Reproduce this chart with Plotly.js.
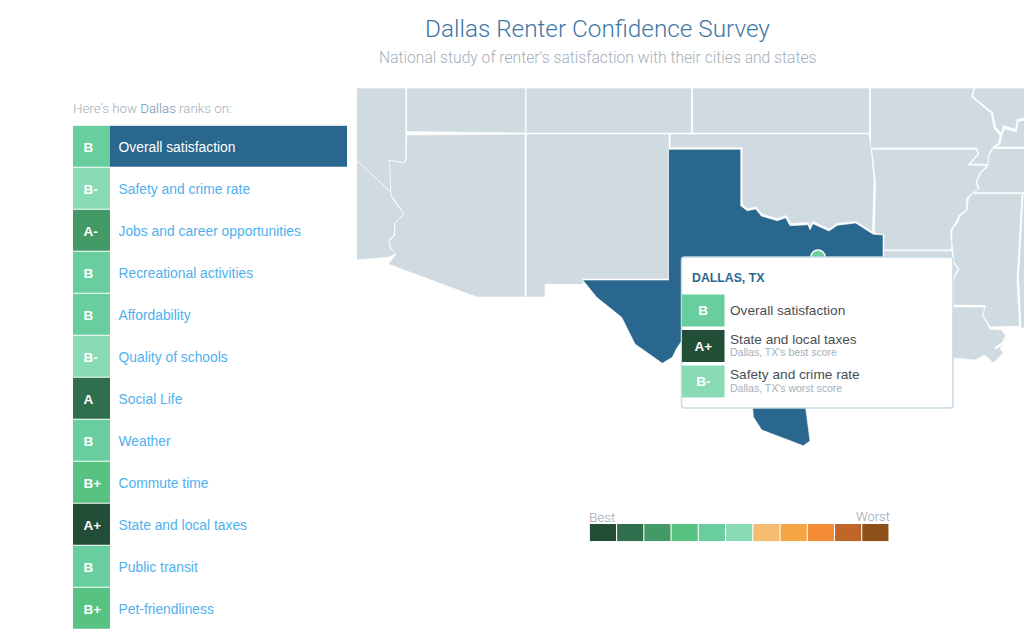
<!DOCTYPE html>
<html><head><meta charset="utf-8">
<script src="https://cdn.plot.ly/plotly-3.0.1.min.js"></script>
<style>html,body{margin:0;padding:0;background:#fff}#chart{width:1024px;height:642px}</style>
</head><body><div id="chart"></div>
<script>
// Survey rows
const categories = ["Overall satisfaction","Safety and crime rate","Jobs and career opportunities","Recreational activities","Affordability","Quality of schools","Social Life","Weather","Commute time","State and local taxes","Public transit","Pet-friendliness"];
const grades = ["B","B-","A-","B","B","B-","A","B","B+","A+","B","B+"];
// Colour scale
const scaleGrades = ["A+","A","A-","B+","B","B-","C+","C","C-","D","F"];
const scaleColors = ["#224d36","#2f6f4d","#449a67","#58c282","#69ce9e","#88dbb4","#f5bb6f","#f6a545","#f48b35","#c06628","#8d5219"];
// Tooltip
const tipCategories = ["Overall satisfaction","State and local taxes","Safety and crime rate"];
const tipGrades = ["B","A+","B-"];
const tipNotes = ["","Dallas, TX's best score","Dallas, TX's worst score"];
// Map outlines, in the map's projected units
const nevada = [[340,88],[405.7,88],[405.7,158],[404,163],[390,160],[390.7,192],[357,161],[340,146]];
const california = [[340,146],[357,161],[390.7,192],[391,196],[397,205],[404,213.5],[395,223],[394,235],[389,240],[390,248],[396,254],[389,257],[357,260],[340,262]];
const utah = [[407,88],[525.5,88],[525.5,133],[407,131.5]];
const colorado = [[526.5,88],[691.5,88],[691.5,133],[526.5,133]];
const kansas = [[693,88],[869.5,88],[869.5,133],[693,133]];
const arizona = [[407,135],[525,134],[525,297],[476.7,297],[388,264],[395.7,254.7],[390.7,248],[389.3,240.7],[395,235],[395,223],[404,214],[396.7,203],[391,195],[389.3,160.3],[404.3,162.7],[406.7,158.3]];
const newMexico = [[526.5,134],[669,134],[669,279],[583,279],[583.3,284.3],[545,284.3],[545,297],[526.5,297]];
const texas = [[669,149.3],[740.7,149.3],[740.7,205.7],[747.3,210.7],[755.7,209],[761.3,216],[777.3,220.7],[785.7,217.7],[790,225.7],[808,224.7],[810,229.7],[813,223.7],[829,231],[837.3,225.3],[855.7,223],[873.3,234.3],[883,235],[883,300],[860,360],[805.7,408],[810,441],[803.3,445.7],[761.7,430],[753.3,416.7],[752.7,408.3],[700,350],[681,342],[676.7,348.3],[672.3,357.3],[662.3,363.3],[635,344],[621.7,317.3],[596.7,297.3],[582.7,280],[669,280]];
const oklahoma = [[670.5,134],[869,134],[871,148],[874,180],[872.5,232],[856,221.5],[837,223.5],[829,229],[813,221.5],[810,227],[808.5,222.5],[791,223.5],[786,215.5],[777.5,218.7],[762,214],[756,207],[747.5,208.7],[742.3,204.7],[742.3,147.7],[670.5,147.7]];
const missouri = [[871,88],[974,88],[971.3,96.7],[991.3,113.3],[994,128.3],[1000,135],[998.3,143.3],[993.3,146.7],[990.7,150],[988,156.7],[988,164.5],[970,164],[979,154.3],[976.7,148],[871,148]];
const arkansas = [[872,149.2],[976,149.2],[978,154],[968,165],[987,165.5],[980.5,172.3],[976,182],[978,189],[972,193.5],[967,197.5],[966,210],[959,215],[956,222],[950.7,230],[950.7,238],[952,241],[951,249.8],[884,249.8],[884,235],[874.5,233],[875.5,180]];
const louisiana = [[884,250.8],[952,250.8],[953,262],[958,269],[953,278],[953,307],[985,307],[982.5,315],[990,329],[1001.7,330],[1007.7,338.3],[1000,348.3],[1003.3,353.3],[993.3,362.7],[984.3,355],[975,360],[953,358],[884,358]];
const mississippi = [[973,193.6],[1022,193.6],[1017,280],[1019.5,326],[990,327],[983,315],[985.5,305.5],[954,305],[954,278],[959,269],[954,262],[953,250],[952,241],[952,230],[958,222],[960,216],[967,210],[968.5,198]];
const alabama = [[1023.5,193.6],[1030,193.6],[1030,328],[1021,328],[1018.7,280]];
const illinois = [[975.5,88],[1030,88],[1030,117],[1017,119.5],[1015.5,129.5],[1003.5,125.5],[1001.5,133.5],[995.5,127],[992.7,112.5],[972.8,96.5]];
const kentucky = [[1005,128.5],[1016.5,132],[1018,121.5],[1030,119],[1030,147],[995,147],[1000,144],[1002,135]];
const tennessee = [[993,148.6],[1030,148.6],[1030,192.6],[973,192.6],[979,188.5],[977,181.5],[981,173],[988,166],[988.5,157]];
const otherStates = {nevada,california,utah,colorado,kansas,arizona,newMexico,oklahoma,missouri,arkansas,louisiana,mississippi,alabama,illinois,kentucky,tennessee};
const deltaChannel = [[1006.5,336.5],[1003,343],[995,348.5]];
const dallas = [818,257];

const colorOf = g => scaleColors[scaleGrades.indexOf(g)];
const sans = '"Liberation Sans", Arial, sans-serif';
const light = 'Roboto, "Liberation Sans", sans-serif';
const land = "#cfdbe1", navy = "#2a678e", link = "#4fb1ee", mute = "#a9b5bd";
const polygon = (pts, fill) => ({type:"scatter",mode:"lines",x:pts.map(p=>p[0]),y:pts.map(p=>p[1]),fill:"toself",fillcolor:fill,line:{color:"#fff",width:0.6},hoverinfo:"skip",showlegend:false,xaxis:"x",yaxis:"y"});

const traces = [];
for (const k in otherStates) traces.push(polygon(otherStates[k], land));
traces.push({type:"scatter",mode:"lines",x:deltaChannel.map(p=>p[0]),y:deltaChannel.map(p=>p[1]),line:{color:"#fff",width:2.5},hoverinfo:"skip",showlegend:false,xaxis:"x",yaxis:"y"});
traces.push(polygon(texas, navy));
traces.push({type:"scatter",mode:"markers",x:[dallas[0]],y:[dallas[1]],marker:{size:14,color:colorOf("B"),line:{color:"#fff",width:1.5}},hoverinfo:"skip",showlegend:false,xaxis:"x",yaxis:"y"});
// keep the box subplot alive
traces.push({type:"scatter",mode:"markers",x:[null],y:[null],showlegend:false,xaxis:"x2",yaxis:"y2"});
// Rank panel
traces.push({type:"bar",orientation:"h",y:categories,x:grades.map(()=>37),marker:{color:grades.map(colorOf)},width:0.975,hoverinfo:"skip",showlegend:false,xaxis:"x3",yaxis:"y3"});
traces.push({type:"bar",orientation:"h",y:categories.slice(0,1),x:[237],base:[37],marker:{color:navy},width:0.975,hoverinfo:"skip",showlegend:false,xaxis:"x3",yaxis:"y3"});
traces.push({type:"scatter",mode:"text",y:categories,x:grades.map(()=>10.5),text:grades,textposition:"middle right",textfont:{family:sans,size:13.5,color:"#fff",weight:700},hoverinfo:"skip",showlegend:false,xaxis:"x6",yaxis:"y6"});
traces.push({type:"scatter",mode:"text",y:categories,x:categories.map(()=>45.5),text:categories,textposition:"middle right",textfont:{family:sans,size:13.85,color:categories.map((c,i)=>i===0?"#fff":link)},hoverinfo:"skip",showlegend:false,xaxis:"x6",yaxis:"y6"});
// Tooltip rows
traces.push({type:"bar",orientation:"h",y:tipCategories,x:tipGrades.map(()=>42.5),marker:{color:tipGrades.map(colorOf)},width:0.9,text:tipGrades,textposition:"inside",insidetextanchor:"middle",textangle:0,constraintext:"none",textfont:{family:sans,size:13.5,color:"#fff",weight:700},hoverinfo:"skip",showlegend:false,xaxis:"x4",yaxis:"y4"});
// Colour scale
traces.push({type:"bar",x:scaleGrades,y:scaleGrades.map(()=>1),marker:{color:scaleColors},width:0.96,hoverinfo:"skip",showlegend:false,xaxis:"x5",yaxis:"y5"});

const W=1024,H=642;
const dx=(a,b)=>[a/W,b/W], dy=(t,b)=>[1-b/H,1-t/H];
const hidden = o => Object.assign({visible:false,fixedrange:true},o);
const note = (text,px,py,anchor,font) => ({xref:"paper",yref:"paper",x:px/W,y:1-py/H,text,showarrow:false,xanchor:anchor,yanchor:"middle",font});

const annotations = [
  note("National study of renter's satisfaction with their cities and states",597.5,57.5,"center",{family:light,size:15.65,color:"#a3afb8",weight:300}),
  note('Here\'s how <span style="color:#6f93ad">Dallas</span> ranks on:',71,108,"left",{family:light,size:13.3,color:"#a3afb8",weight:300}),
  note("Best",586.5,516.5,"left",{family:light,size:13.5,color:"#98a4ab",weight:300}),
  note("Worst",892,516.5,"right",{family:light,size:13,color:"#98a4ab",weight:300}),
  note("<b>DALLAS, TX</b>",690,278,"left",{family:sans,size:12.3,color:navy})
];
tipCategories.forEach((c,i)=>{
  const hasNote = !!tipNotes[i];
  annotations.push({xref:"x4",yref:"y4",x:46,y:c,text:c,showarrow:false,xanchor:"left",yanchor:"middle",yshift:hasNote?7:0,font:{family:sans,size:13.65,color:"#4a4f52"}});
  if (hasNote) annotations.push({xref:"x4",yref:"y4",x:46,y:c,text:tipNotes[i],showarrow:false,xanchor:"left",yanchor:"middle",yshift:-6.3,font:{family:sans,size:10.5,color:"#9fb1bd"}});
});

const layout = {
  width:W,height:H,margin:{l:0,r:0,t:0,b:0},paper_bgcolor:"#fff",plot_bgcolor:"rgba(0,0,0,0)",showlegend:false,barmode:"overlay",
  title:{text:"Dallas Renter Confidence Survey",x:597.5/W,xanchor:"center",y:1-28/H,yanchor:"middle",font:{family:light,size:24.3,color:"#3f78a5",weight:300}},
  xaxis:hidden({domain:dx(357,1024),range:[357,1024]}),
  yaxis:hidden({domain:dy(88,642),range:[642,88],anchor:"x"}),
  xaxis2:hidden({domain:[0,1],range:[0,W],anchor:"y2"}),
  yaxis2:hidden({domain:[0,1],range:[H,0],anchor:"x2"}),
  xaxis3:hidden({domain:dx(73,347),range:[0,274],anchor:"y3"}),
  yaxis3:hidden({domain:dy(125.2,629.2),type:"category",categoryorder:"array",categoryarray:categories,range:[11.5,-0.5],anchor:"x3"}),
  xaxis4:hidden({domain:dx(682,953),range:[0,271],anchor:"y4"}),
  yaxis4:hidden({domain:dy(292.75,399.25),type:"category",categoryorder:"array",categoryarray:tipCategories,range:[2.5,-0.5],anchor:"x4"}),
  xaxis5:hidden({domain:dx(589.3,889),type:"category",categoryorder:"array",categoryarray:scaleGrades,range:[-0.5,10.5],anchor:"y5"}),
  yaxis5:hidden({domain:dy(524,541.3),range:[0,1],anchor:"x5"}),
  xaxis6:hidden({domain:dx(73,347),range:[0,274],anchor:"y6"}),
  yaxis6:hidden({domain:dy(128,632),type:"category",categoryorder:"array",categoryarray:categories,range:[11.5,-0.5],anchor:"x6"}),
  shapes:[{type:"path",xref:"x2",yref:"y2",layer:"below",path:"M684.5,257 L950,257 Q953,257 953,260 L953,405 Q953,408 950,408 L684.5,408 Q681.5,408 681.5,405 L681.5,260 Q681.5,257 684.5,257 Z",fillcolor:"#fff",line:{color:"#c6d9e5",width:1.5}}],
  annotations
};
Plotly.newPlot("chart",traces,layout,{displayModeBar:false,staticPlot:true});
</script></body></html>
